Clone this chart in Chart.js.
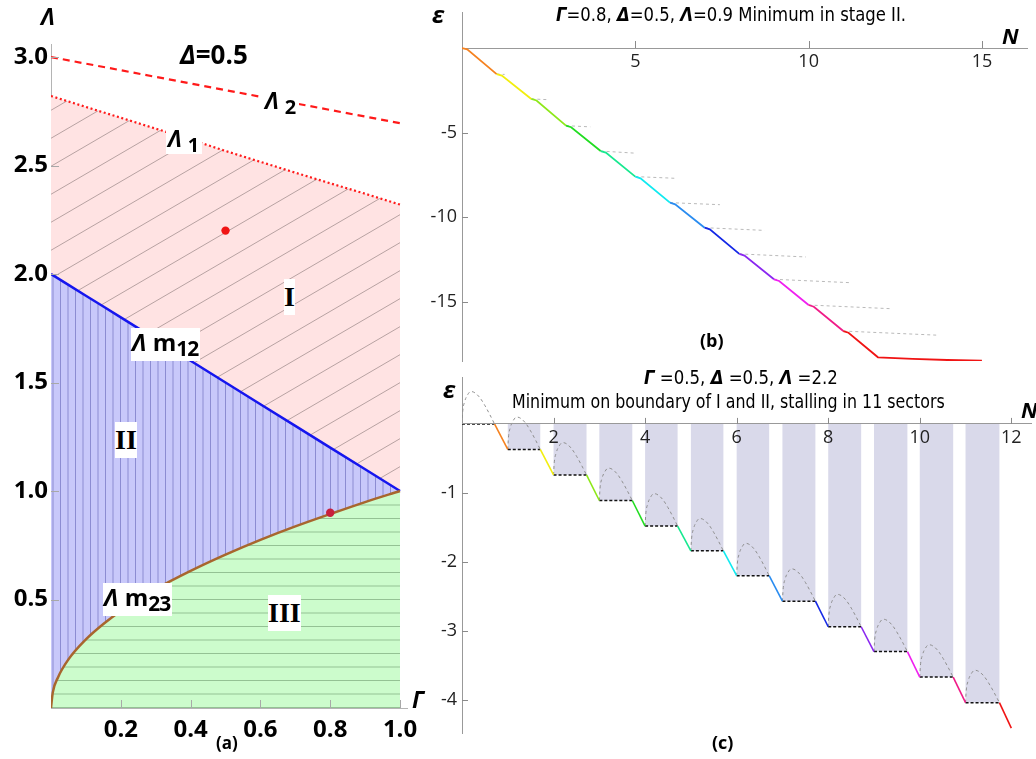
<!DOCTYPE html>
<html>
<head>
<meta charset="utf-8">
<script src="https://cdn.jsdelivr.net/npm/chart.js"></script>
<style>
  html, body { margin: 0; padding: 0; background: #fff; }
  #page { position: relative; width: 1036px; height: 759px; overflow: hidden; background: #fff; }
  canvas { position: absolute; }
  .t { position: absolute; white-space: nowrap; color: #000; line-height: 1; font-family: 'Open Sans', 'DejaVu Sans', sans-serif; }
  .bx { background: #fff; }
  .gi { font-style: italic; font-weight: bold; }
  .rn { font-family: 'Liberation Serif', 'DejaVu Serif', serif; font-weight: bold; font-size: 28px; line-height: 36px; }
  .sub { position: relative; top: 7px; }
  .ttl { font-family: 'Liberation Sans Narrow', 'DejaVu Sans Condensed', 'Roboto', sans-serif; font-size: 19px; }
</style>
</head>
<body>
<div id="page">
  <canvas id="pa" width="420" height="759" style="left:0;top:0"></canvas>
  <canvas id="pb" width="616" height="380" style="left:420px;top:0"></canvas>
  <canvas id="pc" width="616" height="397" style="left:420px;top:362px"></canvas>

  <!-- panel (a) annotations -->
  <div class="t gi" style="left:41px;top:5px;font-size:23px;">Λ</div>
  <div class="t gi" style="left:412px;top:688px;font-size:23px;">Γ</div>
  <div class="t" style="left:180px;top:41px;font-size:26px;font-weight:bold;"><i>Δ</i>=0.5</div>
  <div class="t bx" style="left:263px;top:89px;font-size:23px;font-weight:bold;padding:0 3px 4px 2px;"><i>Λ</i> <span class="sub" style="font-size:20px;top:5px">2</span></div>
  <div class="t bx" style="left:166px;top:127px;font-size:23px;font-weight:bold;padding:0 3px 4px 2px;"><i>Λ</i> <span class="sub" style="font-size:20px;top:5px">1</span></div>
  <div class="t bx" style="left:131px;top:328px;font-size:24px;font-weight:bold;padding:2px 2px 7px 1px;"><i>Λ</i> m<span class="sub" style="font-size:21px;top:5px;letter-spacing:-1px">12</span></div>
  <div class="t bx" style="left:103px;top:583px;font-size:24px;font-weight:bold;padding:2px 2px 7px 1px;"><i>Λ</i> m<span class="sub" style="font-size:21px;top:5px;letter-spacing:-1px">23</span></div>
  <div class="t bx rn" style="left:284px;top:279px;">I</div>
  <div class="t bx rn" style="left:115px;top:422px;">II</div>
  <div class="t bx rn" style="left:268px;top:595px;">III</div>
  <div class="t" style="left:216px;top:734px;font-size:17px;font-weight:bold;">(a)</div>

  <!-- panel (b) annotations -->
  <div class="t gi" style="left:432px;top:2px;font-size:24px;">ε</div>
  <div class="t gi" style="left:1002px;top:24px;font-size:22px;">N</div>
  <div class="t ttl" id="titleB"><span class="gi">Γ</span>=0.8, <span class="gi">Δ</span>=0.5, <span class="gi">Λ</span>=0.9 Minimum in stage II.</div>
  <div class="t" style="left:700px;top:331px;font-size:18px;font-weight:bold;">(b)</div>

  <!-- panel (c) annotations -->
  <div class="t ttl" id="titleC1"><span class="gi">Γ</span> =0.5, <span class="gi">Δ</span> =0.5, <span class="gi">Λ</span> =2.2</div>
  <div class="t ttl" id="titleC2">Minimum on boundary of I and II, stalling in 11 sectors</div>
  <div class="t gi" style="left:443px;top:377px;font-size:24px;">ε</div>
  <div class="t gi" style="left:1021px;top:398px;font-size:22px;">N</div>
  <div class="t" style="left:712px;top:733px;font-size:18px;font-weight:bold;">(c)</div>
</div>

<script>
// ---------- (a) phase diagram in the (Γ, Λ) plane at Δ = 0.5 ----------
const GAMMA      = [0, 0.005, 0.02, 0.05, 0.1, 0.15, 0.2, 0.3, 0.4, 0.5, 0.6, 0.7, 0.8, 0.9, 1.0];
const LAMBDA_M23 = [0, 0.071, 0.141, 0.224, 0.316, 0.387, 0.447, 0.548, 0.632, 0.707, 0.775, 0.837, 0.894, 0.949, 1.0];
const LAMBDA_M12 = [2.0, 1.995, 1.98, 1.95, 1.9, 1.85, 1.8, 1.7, 1.6, 1.5, 1.4, 1.3, 1.2, 1.1, 1.0];
const LAMBDA_1   = [2.82, 2.818, 2.81, 2.795, 2.77, 2.745, 2.72, 2.67, 2.62, 2.567, 2.517, 2.467, 2.418, 2.37, 2.32];
const LAMBDA_2_GAMMA = [0, 1.0];
const LAMBDA_2       = [3.0, 2.695];
const MARK_GAMMA  = [0.5, 0.8];
const MARK_LAMBDA = [2.2, 0.9];
const A_X_LABELS = [0.2, 0.4, 0.6, 0.8, 1.0];
const A_Y_LABELS = [0.5, 1.0, 1.5, 2.0, 2.5, 3.0];

// ---------- (b) energy vs N, Γ=0.8, Δ=0.5, Λ=0.9 ----------
const B_KINK_N   = [0, 1, 2, 3, 4, 5, 6, 7, 8, 9, 10, 11];
const B_KINK_E   = [0, -1.54, -3.01, -4.59, -6.09, -7.60, -9.14, -10.62, -12.17, -13.67, -15.19, -16.73];
const B_SHOULDER_N = [0.15, 1.15, 2.15, 3.15, 4.15, 5.15, 6.15, 7.15, 8.15, 9.15, 10.15, 11.15];
const B_SHOULDER_E = [-0.08, -1.63, -3.10, -4.68, -6.18, -7.70, -9.24, -10.72, -12.27, -13.77, -15.29, -16.83];
const B_TAIL_N   = [12, 13, 14, 15];
const B_TAIL_E   = [-18.28, -18.38, -18.44, -18.48];
const B_GUIDE_START_N = [1, 2, 3, 4, 5, 6, 7, 8, 9, 10, 11];
const B_GUIDE_START_E = [-1.54, -3.01, -4.59, -6.09, -7.60, -9.14, -10.62, -12.17, -13.67, -15.19, -16.73];
const B_GUIDE_END_N   = [1.23, 2.46, 3.70, 4.96, 6.15, 7.44, 8.73, 9.92, 11.2, 12.39, 13.68];
const B_GUIDE_END_E   = [-1.56, -3.05, -4.66, -6.21, -7.70, -9.26, -10.78, -12.35, -13.87, -15.41, -16.97];
const B_X_LABELS = [5, 10, 15];
const B_Y_LABELS = [-5, -10, -15];

// ---------- (c) energy vs N, Γ=0.5, Δ=0.5, Λ=2.2 ----------
const C_SECTOR_N  = [0, 1, 2, 3, 4, 5, 6, 7, 8, 9, 10, 11];
const C_STEP_E    = [0, -0.37, -0.74, -1.11, -1.48, -1.84, -2.20, -2.57, -2.94, -3.30, -3.67, -4.04];
const C_FLAT_END  = [0.71, 1.71, 2.72, 3.72, 4.71, 5.71, 6.71, 7.72, 8.72, 9.73, 10.73, 11.74];
const C_END_N = 12.0;
const C_END_E = -4.41;
// profile of the dashed barrier over one sector: fraction of the flat part and height above the step
const ARC_U = [0, 0.02, 0.08, 0.17, 0.27, 0.40, 0.55, 0.70, 0.85, 1.0];
const ARC_H = [0, 0.17, 0.32, 0.42, 0.47, 0.45, 0.38, 0.27, 0.14, 0];
const C_X_LABELS = [2, 4, 6, 8, 10, 12];
const C_Y_LABELS = [-1, -2, -3, -4];

// sector colours (one per sector, orange through red)
const SECTOR_COLORS = ['#f58220', '#f2ee10', '#8ee81a', '#22dd22', '#18e890', '#10eaf0',
                       '#2a8cf0', '#1428e6', '#8a28f0', '#f020f0', '#f01c88', '#f01414'];

// ---------- helpers ----------
const pts = (xs, ys) => xs.map((x, i) => ({ x, y: ys[i] }));
const onStep = (v, m) => Math.abs(v / m - Math.round(v / m)) < 1e-6;
const GAP = (x) => ({ x, y: null });
const findLabel = (list, v) => list.find((l) => Math.abs(l - v) < 1e-6);

// tick positions at every minor step inside [min, max]
function stepTicks(step) {
  return (s) => {
    const out = [];
    for (let i = Math.ceil(s.min / step - 1e-9); i * step <= s.max + 1e-9; i++) {
      out.push({ value: Math.round(i * step * 1e6) / 1e6 });
    }
    s.ticks = out;
  };
}

function tile(w, h, bg, line, draw) {
  const c = document.createElement('canvas');
  c.width = w; c.height = h;
  const g = c.getContext('2d');
  g.fillStyle = bg; g.fillRect(0, 0, w, h);
  g.strokeStyle = line; g.lineWidth = 1;
  draw(g, w, h);
  return c;
}

// short tick marks drawn from the axis line into the plot
const axisTicks = {
  id: 'axisTicks',
  afterDraw(chart, args, o) {
    const { ctx, chartArea } = chart;
    ctx.save();
    ctx.strokeStyle = o.color;
    ctx.lineWidth = 1;
    for (const id of ['x', 'y']) {
      const s = chart.scales[id], c = o[id];
      const other = chart.scales[id === 'x' ? 'y' : 'x'];
      const base = id === 'x'
        ? (c.at !== undefined ? other.getPixelForValue(c.at) : chartArea.bottom)
        : (c.at !== undefined ? other.getPixelForValue(c.at) : chartArea.left);
      for (const t of s.ticks) {
        const v = t.value;
        if (Math.abs(v) < 1e-9) continue;
        const major = t.label !== null && t.label !== undefined && t.label !== '';
        const len = major ? c.major : c.minor;
        const p = Math.round(s.getPixelForValue(v)) + 0.5;
        ctx.beginPath();
        if (id === 'x') { ctx.moveTo(p, base); ctx.lineTo(p, base - len); }
        else { ctx.moveTo(base, p); ctx.lineTo(base + len, p); }
        ctx.stroke();
      }
    }
    ctx.restore();
  }
};

function fixWidth(w) { return (s) => { s.width = w; s.paddingTop = 0; s.paddingBottom = 0; }; }
function fixHeight(h) { return (s) => { s.height = h; s.paddingLeft = 0; s.paddingRight = 0; }; }
function noPad(s) { s.paddingLeft = 0; s.paddingRight = 0; s.paddingTop = 0; s.paddingBottom = 0; }

const baseOpts = {
  responsive: false, animation: false, devicePixelRatio: 1, events: [],
  plugins: { legend: { display: false }, tooltip: { enabled: false } }
};

// ---------- (a) ----------
(function () {
  const ctx = document.getElementById('pa').getContext('2d');
  const pink = ctx.createPattern(tile(48, 28, '#ffe3e3', '#b8a2a2', (g, w, h) => {
    for (const off of [-h, 0, h]) { g.beginPath(); g.moveTo(0, h + off); g.lineTo(w, off); g.stroke(); }
  }), 'repeat');
  const blue = ctx.createPattern(tile(15, 8, '#c8c8fa', '#8c8cd2', (g, w, h) => {
    g.beginPath(); g.moveTo(0.5, 0); g.lineTo(0.5, h); g.moveTo(8, 0); g.lineTo(8, h); g.stroke();
  }), 'repeat');
  const green = ctx.createPattern(tile(8, 27, '#ccfccc', '#94c294', (g, w, h) => {
    g.beginPath(); g.moveTo(0, 5.5); g.lineTo(w, 5.5); g.moveTo(0, 19); g.lineTo(w, 19); g.stroke();
  }), 'repeat');

  const tickFont = { family: "'Open Sans', 'DejaVu Sans', sans-serif", size: 24, weight: 'bold' };
  new Chart(ctx, {
    type: 'line',
    data: {
      datasets: [
        { data: pts(GAMMA, LAMBDA_M23), borderColor: '#a8662e', borderWidth: 2.5, fill: 'origin',
          backgroundColor: green, cubicInterpolationMode: 'monotone', pointRadius: 0 },
        { data: pts(GAMMA, LAMBDA_M12), borderColor: '#1616ee', borderWidth: 2.5, fill: 0,
          backgroundColor: blue, pointRadius: 0 },
        { data: pts(GAMMA, LAMBDA_1), borderColor: '#ff1a1a', borderWidth: 2.2, borderDash: [2, 2.6],
          fill: 1, backgroundColor: pink, pointRadius: 0 },
        { data: pts(LAMBDA_2_GAMMA, LAMBDA_2), borderColor: '#ff1a1a', borderWidth: 2.2, borderDash: [7, 5],
          fill: false, pointRadius: 0 },
        { type: 'scatter', order: -1, data: pts(MARK_GAMMA, MARK_LAMBDA),
          pointBackgroundColor: ['#f01414', '#c81e3c'], pointBorderWidth: 0, pointRadius: 4.2 }
      ]
    },
    options: {
      ...baseOpts,
      layout: { padding: { left: 0, top: 44, right: 13, bottom: 0 } },
      plugins: { ...baseOpts.plugins,
        axisTicks: { color: '#a8a8a8', x: { major: 8, minor: 5 }, y: { major: 8, minor: 4.5 } } },
      scales: {
        x: { type: 'linear', min: 0, max: 1.02, bounds: 'data', afterFit: fixHeight(51), afterBuildTicks: stepTicks(0.05),
             grid: { display: false, drawTicks: false }, border: { display: true, color: '#b4b4b4' },
             ticks: { autoSkip: false, maxRotation: 0, padding: 8, color: '#000', font: tickFont,
                      callback: (v) => { const l = findLabel(A_X_LABELS, v); return l === undefined ? null : l.toFixed(1); } } },
        y: { type: 'linear', min: 0, max: 3.06, bounds: 'data', afterFit: fixWidth(51), afterBuildTicks: stepTicks(0.1),
             grid: { display: false, drawTicks: false }, border: { display: true, color: '#b4b4b4' },
             ticks: { autoSkip: false, padding: 3, color: '#000', font: tickFont,
                      callback: (v) => { const l = findLabel(A_Y_LABELS, v); return l === undefined ? null : l.toFixed(1); } } }
      }
    },
    plugins: [axisTicks]
  });
})();

// ---------- (b) ----------
(function () {
  const curve = [];
  B_KINK_N.forEach((n, k) => {
    curve.push({ x: n, y: B_KINK_E[k] });
    curve.push({ x: B_SHOULDER_N[k], y: B_SHOULDER_E[k] });
  });
  B_TAIL_N.forEach((n, i) => curve.push({ x: n, y: B_TAIL_E[i] }));

  const guides = [];
  B_GUIDE_START_N.forEach((n, i) => {
    guides.push({ x: n, y: B_GUIDE_START_E[i] }, { x: B_GUIDE_END_N[i], y: B_GUIDE_END_E[i] }, GAP(B_GUIDE_END_N[i]));
  });

  const tickFont = { family: "'Open Sans', 'DejaVu Sans', sans-serif", size: 18 };
  new Chart(document.getElementById('pb'), {
    type: 'line',
    data: {
      datasets: [
        { data: curve, borderWidth: 1.8, pointRadius: 0, borderColor: SECTOR_COLORS[0],
          segment: { borderColor: (c) => SECTOR_COLORS[Math.min(11, Math.floor(c.p0.parsed.x + 1e-9))] } },
        { data: guides, borderColor: '#b9b9b9', borderWidth: 1, borderDash: [3, 3], pointRadius: 0, spanGaps: false }
      ]
    },
    options: {
      ...baseOpts,
      layout: { padding: { left: 0, top: 12.5, right: 9, bottom: 19 } },
      plugins: { ...baseOpts.plugins,
        axisTicks: { color: '#8a8a8a', x: { major: 7, minor: 3.5, at: 0 }, y: { major: 6, minor: 3.5 } } },
      scales: {
        x: { type: 'linear', min: 0, max: 16.3, bounds: 'data', position: { y: 0 }, afterFit: noPad, afterBuildTicks: stepTicks(1),
             grid: { display: false, drawTicks: false }, border: { display: true, color: '#999' },
             ticks: { autoSkip: false, maxRotation: 0, padding: 3, color: '#222', font: tickFont,
                      callback: (v) => { const l = findLabel(B_X_LABELS, v); return l === undefined ? null : String(l); } } },
        y: { type: 'linear', min: -18.5, max: 2.1, bounds: 'data', afterFit: fixWidth(42), afterBuildTicks: stepTicks(1),
             grid: { display: false, drawTicks: false }, border: { display: true, color: '#999' },
             ticks: { autoSkip: false, padding: 5, color: '#222', font: tickFont,
                      callback: (v) => { const l = findLabel(B_Y_LABELS, v); return l === undefined ? null : String(l); } } }
      }
    },
    plugins: [axisTicks]
  });
})();

// ---------- (c) ----------
(function () {
  const descents = [], flats = [], arcs = [];
  C_SECTOR_N.forEach((n, k) => {
    const last = k === C_SECTOR_N.length - 1;
    const nextN = last ? C_END_N : C_SECTOR_N[k + 1];
    const nextE = last ? C_END_E : C_STEP_E[k + 1];
    descents.push({ x: C_FLAT_END[k], y: C_STEP_E[k] }, { x: nextN, y: nextE }, GAP(nextN));
    flats.push({ x: n, y: C_STEP_E[k] }, { x: C_FLAT_END[k], y: C_STEP_E[k] }, GAP(C_FLAT_END[k]));
    ARC_U.forEach((u, i) => arcs.push({ x: n + u * (C_FLAT_END[k] - n), y: C_STEP_E[k] + ARC_H[i] }));
    arcs.push(GAP(C_FLAT_END[k]));
  });

  // shaded sector bands from the axis down to each step
  const sectorBands = {
    id: 'sectorBands',
    beforeDatasetsDraw(chart) {
      const { ctx, scales: { x, y } } = chart;
      ctx.save();
      ctx.fillStyle = '#d9d9ea';
      for (let k = 1; k < C_SECTOR_N.length; k++) {
        const x0 = x.getPixelForValue(C_SECTOR_N[k]), x1 = x.getPixelForValue(C_FLAT_END[k]);
        const y0 = y.getPixelForValue(0), y1 = y.getPixelForValue(C_STEP_E[k]);
        ctx.fillRect(x0, y0, x1 - x0, y1 - y0);
      }
      ctx.restore();
    }
  };

  const tickFont = { family: "'Open Sans', 'DejaVu Sans', sans-serif", size: 18 };
  new Chart(document.getElementById('pc'), {
    type: 'line',
    data: {
      datasets: [
        { data: descents, borderWidth: 1.6, pointRadius: 0, borderColor: SECTOR_COLORS[0], spanGaps: false,
          segment: { borderColor: (c) => SECTOR_COLORS[Math.min(11, Math.floor(c.p0.parsed.x + 1e-9))] } },
        { data: flats, borderColor: '#111', borderWidth: 1.5, borderDash: [3, 2], pointRadius: 0, spanGaps: false },
        { data: arcs, borderColor: '#8f8f8f', borderWidth: 1, borderDash: [3, 3], pointRadius: 0, spanGaps: false,
          cubicInterpolationMode: 'monotone' }
      ]
    },
    options: {
      ...baseOpts,
      layout: { padding: { left: 0, top: 15, right: 5, bottom: 26 } },
      plugins: { ...baseOpts.plugins,
        axisTicks: { color: '#8a8a8a', x: { major: 6, minor: 3.5, at: 0 }, y: { major: 6, minor: 3.5 } } },
      scales: {
        x: { type: 'linear', min: 0, max: 12.43, bounds: 'data', position: { y: 0 }, afterFit: noPad, afterBuildTicks: stepTicks(0.5),
             grid: { display: false, drawTicks: false }, border: { display: true, color: '#999', z: 1 },
             ticks: { z: 1, autoSkip: false, maxRotation: 0, padding: 3, color: '#222', font: tickFont,
                      callback: (v) => { const l = findLabel(C_X_LABELS, v); return l === undefined ? null : String(l); } } },
        y: { type: 'linear', min: -4.48, max: 0.68, bounds: 'data', afterFit: fixWidth(42), afterBuildTicks: stepTicks(0.2),
             grid: { display: false, drawTicks: false }, border: { display: true, color: '#999' },
             ticks: { autoSkip: false, padding: 5, color: '#222', font: tickFont,
                      callback: (v) => { const l = findLabel(C_Y_LABELS, v); return l === undefined ? null : String(l); } } }
      }
    },
    plugins: [axisTicks, sectorBands]
  });
})();

// ---------- titles: condensed lines stretched to their column width ----------
function placeTitle(id, left, right, cy) {
  const el = document.getElementById(id);
  const w = el.offsetWidth, h = el.offsetHeight;
  el.style.left = left + 'px';
  el.style.top = (cy - h / 2) + 'px';
  el.style.transformOrigin = '0 50%';
  el.style.transform = 'scaleX(' + ((right - left) / w) + ')';
}
placeTitle('titleB', 556, 906, 14);
placeTitle('titleC1', 644, 838, 377);
placeTitle('titleC2', 512, 945, 401);
</script>
</body>
</html>
